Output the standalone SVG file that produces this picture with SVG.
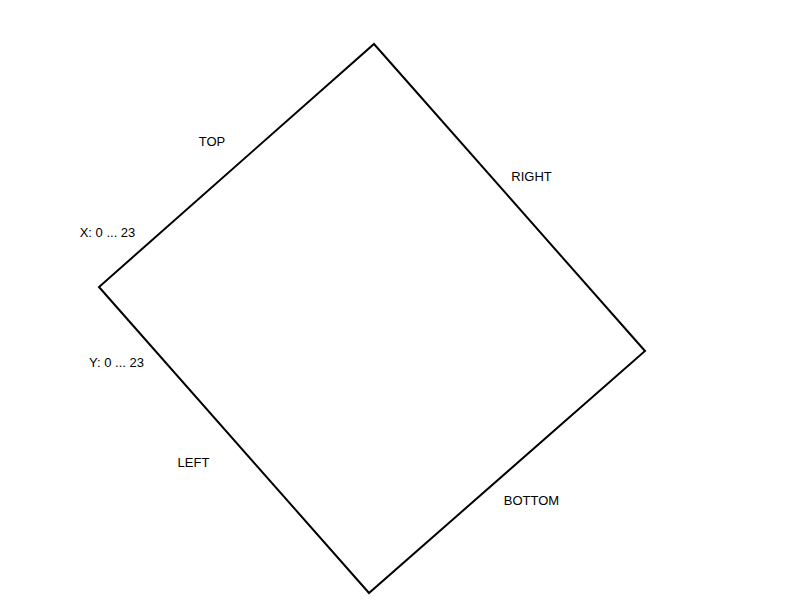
<svg xmlns="http://www.w3.org/2000/svg" width="800" height="600" viewBox="0 0 800 600">
<style>
.lbl{font-family:"Liberation Sans",Arial,sans-serif;font-size:13px;fill:#000;text-anchor:middle}
.edge{fill:none;stroke:#000;stroke-width:2;stroke-linejoin:miter}
</style>
<rect width="800" height="600" fill="#fff"/>
<g id="connectors">
<polygon class="edge" points="374,44 645,351 369,593 99,287"/>
</g>
<g id="label-top"><text class="lbl" x="212" y="146">TOP</text></g>
<g id="label-right"><text class="lbl" x="531.5" y="181">RIGHT</text></g>
<g id="label-x"><text class="lbl" x="107.5" y="237">X: 0 ... 23</text></g>
<g id="label-y"><text class="lbl" x="116.5" y="367">Y: 0 ... 23</text></g>
<g id="label-left"><text class="lbl" x="193.5" y="467">LEFT</text></g>
<g id="label-bottom"><text class="lbl" x="531.5" y="505">BOTTOM</text></g>
</svg>
